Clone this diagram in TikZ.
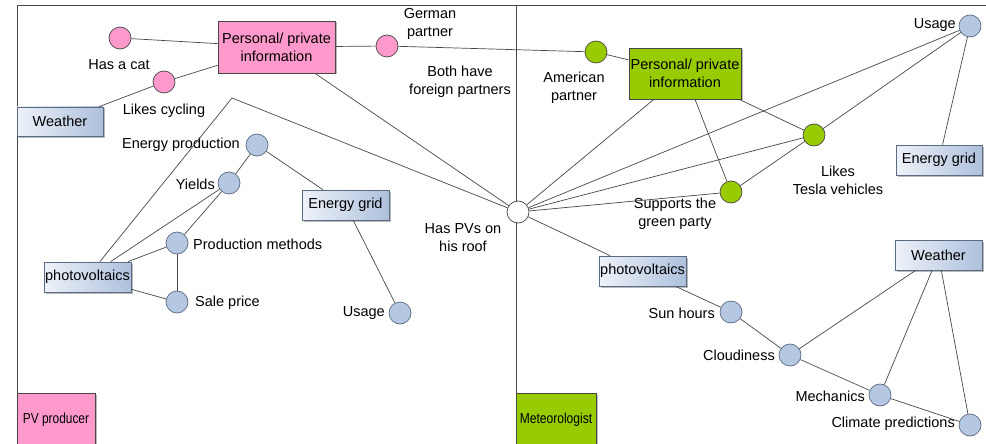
\documentclass[tikz,border=0pt]{standalone}
\usepackage{fontspec}
\setmainfont{Liberation Sans}
\usetikzlibrary{shadows}
\definecolor{linegray}{HTML}{474747}
\definecolor{pinkfill}{HTML}{FF99CC}
\definecolor{greenfill}{HTML}{99CC00}
\definecolor{bluefill}{HTML}{B5C7E1}
\definecolor{blueedge}{HTML}{5B6B82}
\definecolor{shadelight}{HTML}{EEF2F9}
\definecolor{shadedark}{HTML}{AEC0DC}
\tikzset{
  every node/.style={font=\fontsize{14.5}{18}\selectfont},
  conn/.style={draw=linegray, line width=0.7pt},
  topic/.style={draw=blueedge, line width=0.7pt, inner sep=0pt,
    left color=shadelight, right color=shadedark,
    drop shadow={shadow xshift=1.5pt, shadow yshift=-1.5pt, fill=black!45, opacity=0.6}},
  infobox/.style={draw=linegray, line width=0.7pt, inner sep=0pt, align=center,
    drop shadow={shadow xshift=1.5pt, shadow yshift=-1.5pt, fill=black!45, opacity=0.6}},
  dot/.style={circle, draw=blueedge, line width=0.7pt, minimum size=22pt, inner sep=0pt},
  bluedot/.style={dot, fill=bluefill},
  pinkdot/.style={dot, fill=pinkfill, draw=linegray},
  greendot/.style={dot, fill=greenfill, draw=linegray},
  whitedot/.style={dot, fill=white, draw=linegray},
  lbl/.style={inner sep=0pt, align=center},
}
\begin{document}
\begin{tikzpicture}[x=1pt, y=-1pt]
\useasboundingbox (0,0) rectangle (986,444);
\fill[white] (0,0) rectangle (986,444);

% frame and divider
\draw[conn] (17,444) -- (17,5) -- (986,5);
\draw[conn] (516,5) -- (516,444);

% role boxes at the bottom
\node[infobox, fill=pinkfill, minimum width=78pt, minimum height=54pt] (pvprod) at (56,420)
  {\scalebox{0.82}[1]{PV producer}};
\node[infobox, fill=greenfill, minimum width=80pt, minimum height=54pt] (meteo) at (556,420)
  {\scalebox{0.83}[1]{Meteorologist}};

% personal information boxes
\node[infobox, fill=pinkfill, minimum width=117pt, minimum height=52pt] (pinkinfo) at (276.5,47)
  {Personal/ private\\information};
\node[infobox, fill=greenfill, minimum width=112pt, minimum height=51pt] (greeninfo) at (685,73.5)
  {Personal/ private\\information};

% topic boxes
\node[topic, minimum width=86pt, minimum height=29pt] (weatherL) at (60,121.5) {Weather};
\node[topic, minimum width=87pt, minimum height=30pt] (gridL) at (345.5,205) {Energy grid};
\node[topic, minimum width=87pt, minimum height=30pt] (pvL) at (87.5,277) {photovoltaics};
\node[topic, minimum width=86pt, minimum height=30pt] (gridR) at (939,160) {Energy grid};
\node[topic, minimum width=87pt, minimum height=30pt] (pvR) at (642.5,271) {photovoltaics};
\node[topic, minimum width=87pt, minimum height=30pt] (weatherR) at (938.5,255) {Weather};

% pink facts
\node[pinkdot] (cat) at (120,38) {};
\node[pinkdot] (cycling) at (164,82) {};
\node[pinkdot] (german) at (387,46) {};
\node[lbl] (catlbl) at (119,65) {Has a cat};
\node[lbl] (cyclinglbl) at (164,111) {Likes cycling};
\node[lbl] (germanlbl) at (430,24) {German\\partner};

% green facts
\node[greendot] (american) at (596,52) {};
\node[greendot] (tesla) at (814,135) {};
\node[greendot] (green) at (731,192) {};
\node[lbl] (americanlbl) at (574,88) {American\\partner};
\node[lbl] (teslalbl) at (838,180) {Likes\\Tesla vehicles};
\node[lbl] (greenlbl) at (675,214) {Supports the\\green party};

% shared fact
\node[whitedot] (haspv) at (518,212) {};
\node[lbl] (haspvlbl) at (463,238) {Has PVs on\\his roof};
\node[lbl] (bothlbl) at (460,82) {Both have\\foreign partners};

% PV producer topics
\node[bluedot] (eprod) at (257,145) {};
\node[bluedot] (yields) at (229,183) {};
\node[bluedot] (pmeth) at (177,243) {};
\node[bluedot] (sale) at (177,302) {};
\node[bluedot] (usageL) at (400,313) {};
\node[lbl, anchor=east] (eprodlbl) at (240,145) {Energy production};
\node[lbl, anchor=east] (yieldslbl) at (215,184) {Yields};
\node[lbl, anchor=west] (pmethlbl) at (193,244) {Production methods};
\node[lbl, anchor=west] (salelbl) at (195,303) {Sale price};
\node[lbl, anchor=east] (usageLlbl) at (385,313) {Usage};

% meteorologist topics
\node[bluedot] (usageR) at (970,26) {};
\node[bluedot] (sun) at (731,312) {};
\node[bluedot] (cloud) at (790,355) {};
\node[bluedot] (mech) at (880,395) {};
\node[bluedot] (climate) at (970,425) {};
\node[lbl, anchor=east] (usageRlbl) at (956,25) {Usage};
\node[lbl, anchor=east] (sunlbl) at (715,313) {Sun hours};
\node[lbl, anchor=east] (cloudlbl) at (775,355) {Cloudiness};
\node[lbl, anchor=east] (mechlbl) at (865,396) {Mechanics};
\node[lbl, anchor=east] (climatelbl) at (955,424) {Climate predictions};

\coordinate (bend) at (232,98);

% connectors on the PV producer side
\draw[conn] (cat) -- (pinkinfo);
\draw[conn] (cycling) -- (pinkinfo);
\draw[conn] (cycling) -- (weatherL);
\draw[conn] (pinkinfo) -- (german);
\draw[conn] (german) -- (american);
\draw[conn] (pinkinfo) -- (haspv);
\draw[conn] (pvL) -- (bend) -- (haspv);
\draw[conn] (eprod) -- (yields);
\draw[conn] (eprod) -- (gridL);
\draw[conn] (yields) -- (pvL);
\draw[conn] (yields) -- (pmeth);
\draw[conn] (pmeth) -- (pvL);
\draw[conn] (pmeth) -- (sale);
\draw[conn] (sale) -- (pvL);
\draw[conn] (gridL) -- (usageL);

% connectors on the meteorologist side
\draw[conn] (american) -- (greeninfo);
\draw[conn] (haspv) -- (greeninfo);
\draw[conn] (haspv) -- (usageR);
\draw[conn] (haspv) -- (tesla);
\draw[conn] (haspv) -- (green);
\draw[conn] (haspv) -- (pvR);
\draw[conn] (greeninfo) -- (tesla);
\draw[conn] (greeninfo) -- (green);
\draw[conn] (tesla) -- (usageR);
\draw[conn] (green) -- (tesla);
\draw[conn] (usageR) -- (gridR);
\draw[conn] (pvR) -- (sun);
\draw[conn] (sun) -- (cloud);
\draw[conn] (cloud) -- (weatherR);
\draw[conn] (cloud) -- (mech);
\draw[conn] (weatherR) -- (mech);
\draw[conn] (mech) -- (climate);
\draw[conn] (weatherR) -- (climate);
\end{tikzpicture}
\end{document}
